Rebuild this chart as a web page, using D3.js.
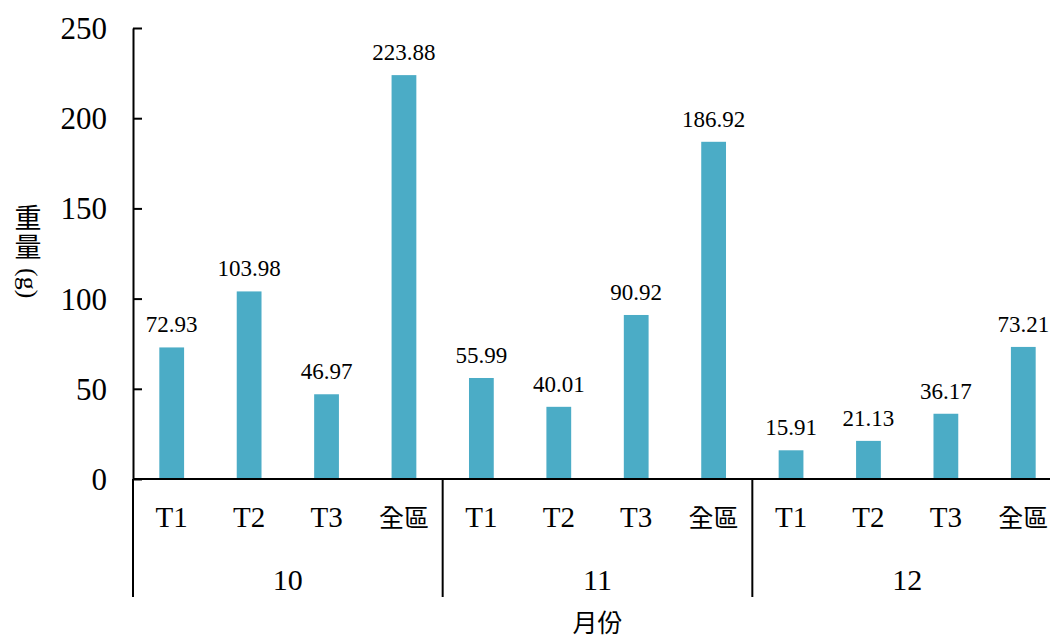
<!DOCTYPE html>
<html>
<head>
<meta charset="utf-8">
<script src="https://cdn.jsdelivr.net/npm/d3@7"></script>
<style>
  body { margin: 0; background: #fff; }
  svg text { fill: #000; }
</style>
</head>
<body>
<script>
// months and sites
const months = ["10", "11", "12"];
const sites = ["T1", "T2", "T3", "全區"];
// weight (g) per month, same order as sites
const weights = {
    "10": [72.93, 103.98, 46.97, 223.88],
    "11": [55.99, 40.01, 90.92, 186.92],
    "12": [15.91, 21.13, 36.17, 73.21]
};
const yTicks = [0, 50, 100, 150, 200, 250];

const W = 1050, H = 637;
const mLeft = 133, mRight = 1062, mTop = 28, mBottom = 479, groupBottom = 597;
const barColor = "#4bacc6";
const serif = "'Liberation Serif', 'Times New Roman', Times, 'DejaVu Serif', 'Noto Sans CJK TC', serif";

const svg = d3.select("body").append("svg").attr("width", W).attr("height", H)
    .style("font-family", serif);

const x0 = d3.scaleBand().domain(months).range([mLeft, mRight]);
const x1 = d3.scaleBand().domain(sites).range([0, x0.bandwidth()])
    .paddingInner(0.68).paddingOuter(0.34);
const y = d3.scaleLinear().domain([0, 250]).range([mBottom, mTop]);

const rows = months.flatMap(m => sites.map((s, i) => ({month: m, site: s, v: weights[m][i]})));

// bars
svg.append("g").selectAll("rect").data(rows).join("rect")
    .attr("x", d => x0(d.month) + x1(d.site))
    .attr("y", d => y(d.v))
    .attr("width", x1.bandwidth())
    .attr("height", d => y(0) - y(d.v))
    .attr("fill", barColor);

// value labels
svg.append("g").selectAll("text").data(rows).join("text")
    .attr("x", d => x0(d.month) + x1(d.site) + x1.bandwidth() / 2)
    .attr("y", d => y(d.v) - 15)
    .attr("text-anchor", "middle")
    .style("font-size", "23px")
    .text(d => d.v.toFixed(2));

// y axis
const yAxis = svg.append("g").attr("transform", `translate(${mLeft},0)`)
    .call(d3.axisLeft(y).tickValues(yTicks).tickSizeInner(-9).tickSizeOuter(0).tickPadding(26));
yAxis.attr("font-family", null).attr("font-size", null);
yAxis.selectAll("path, line").attr("stroke", "#000").attr("stroke-width", 2);
yAxis.selectAll("text").style("font-size", "31px").attr("dy", "0.34em");

// x axis line
svg.append("line").attr("x1", mLeft).attr("x2", W).attr("y1", mBottom).attr("y2", mBottom)
    .attr("stroke", "#000").attr("stroke-width", 2);

// group separators
svg.append("g").selectAll("line").data(months).join("line")
    .attr("x1", d => x0(d)).attr("x2", d => x0(d))
    .attr("y1", mBottom).attr("y2", groupBottom)
    .attr("stroke", "#000").attr("stroke-width", 2);

// site labels
svg.append("g").selectAll("text").data(rows).join("text")
    .attr("x", d => x0(d.month) + x1(d.site) + x1.bandwidth() / 2)
    .attr("y", 527)
    .attr("text-anchor", "middle")
    .style("font-size", d => d.site === "全區" ? "25px" : "29px")
    .text(d => d.site);

// month labels
svg.append("g").selectAll("text").data(months).join("text")
    .attr("x", d => x0(d) + x0.bandwidth() / 2)
    .attr("y", 590)
    .attr("text-anchor", "middle")
    .style("font-size", "30px")
    .text(d => d);

// x title
svg.append("text").attr("x", (mLeft + mRight) / 2).attr("y", 632)
    .attr("text-anchor", "middle").style("font-size", "25px").text("月份");

// y title, vertical: CJK upright, (g) turned
const yt = svg.append("g").attr("transform", "translate(28,0)");
yt.append("text").attr("y", 228).attr("text-anchor", "middle").style("font-size", "27px").text("重");
yt.append("text").attr("y", 257).attr("text-anchor", "middle").style("font-size", "27px").text("量");
yt.append("text").attr("transform", "translate(-8,268) rotate(90)")
    .style("font-size", "26px").text("(g)");
</script>
</body>
</html>
